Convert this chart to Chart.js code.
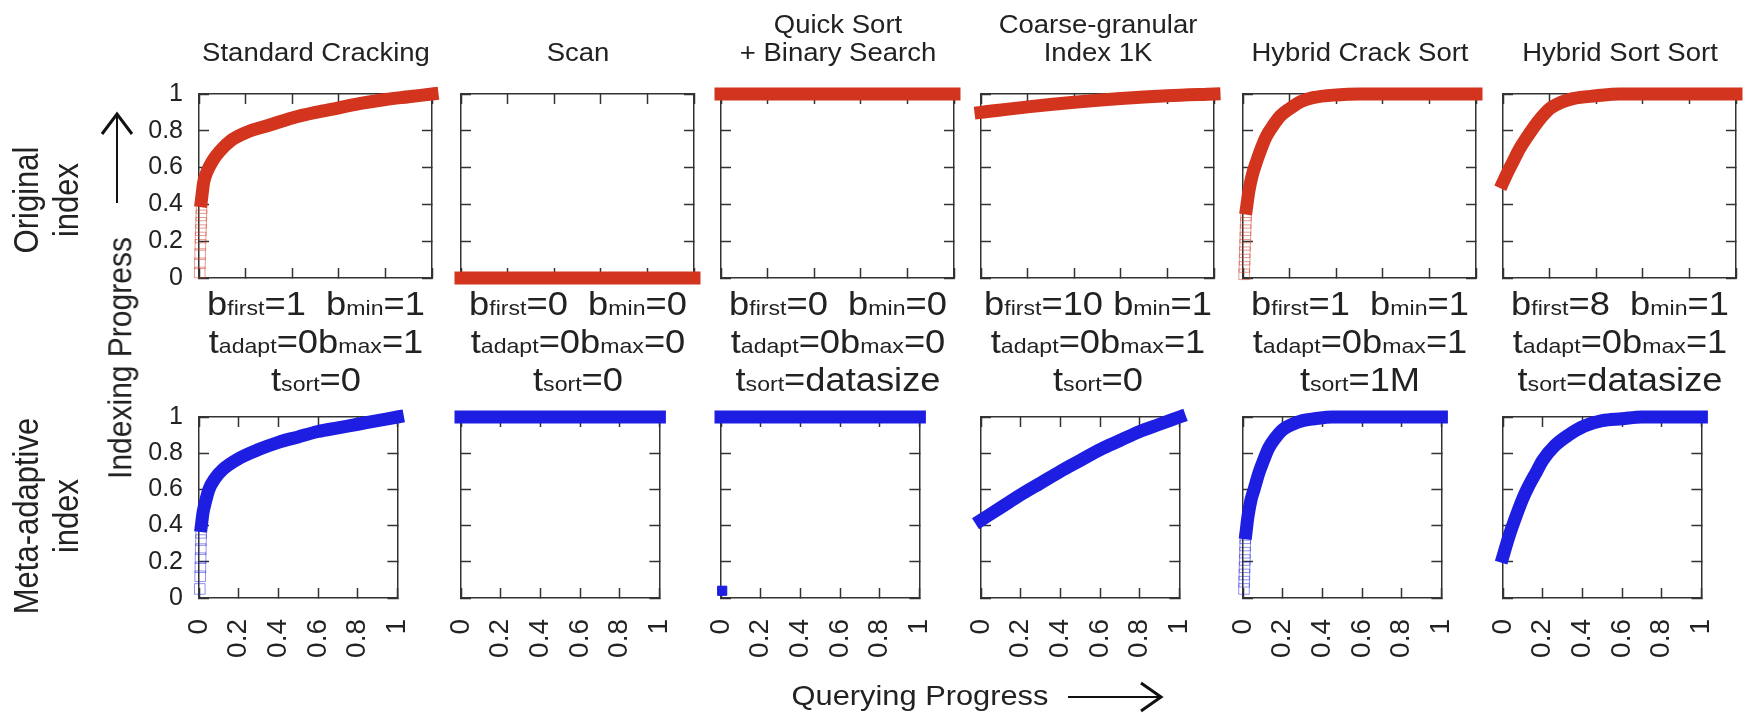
<!DOCTYPE html>
<html><head><meta charset="utf-8">
<script src="https://cdn.jsdelivr.net/npm/chart.js@4.4.1/dist/chart.umd.min.js"></script>
<style>
html,body{margin:0;padding:0;background:#fff;}
#wrap{position:relative;width:1748px;height:713px;overflow:hidden;font-family:"Liberation Sans",Arial,Helvetica,sans-serif;color:#222;background:#fff;}
canvas{position:absolute;}
.t{position:absolute;white-space:pre;text-align:center;}
.sm{font-size:21px;}
svg{position:absolute;left:0;top:0;}
</style></head><body><div id="wrap"></div>
<script>
// ---------- categories / labels ----------
const panelTitles = ['Standard Cracking', 'Scan', 'Quick Sort\n+ Binary Search', 'Coarse-granular\nIndex 1K', 'Hybrid Crack Sort', 'Hybrid Sort Sort'];
const rowLabels = ['Original\nindex', 'Meta-adaptive\nindex'];
const xTickValues = [0, 0.2, 0.4, 0.6, 0.8, 1];
const xTickLabels = ['0', '0.2', '0.4', '0.6', '0.8', '1'];
const yTickValues = [0, 0.2, 0.4, 0.6, 0.8, 1];
const yTickLabels = ['0', '0.2', '0.4', '0.6', '0.8', '1'];
const bFirst = ['1', '0', '0', '10', '1', '8'];
const bMin = ['1', '0', '0', '1', '1', '1'];
const tAdapt = ['0', '0', '0', '0', '0', '0'];
const bMax = ['1', '0', '0', '1', '1', '1'];
const tSort = ['0', '0', 'datasize', '0', '1M', 'datasize'];

// ---------- series: [queryingProgress, indexingProgress] ----------
// Original index (row 1)
const scOrig = [[0.01,0.42],[0.02,0.52],[0.035,0.58],[0.06,0.64],[0.09,0.69],[0.14,0.75],[0.2,0.79],[0.3,0.83],[0.4,0.87],[0.5,0.9],[0.6,0.925],[0.7,0.95],[0.8,0.97],[0.9,0.985],[1.0,1.0]];
const scOrigSparse = [[0.003,0.03],[0.004,0.08],[0.005,0.13],[0.006,0.18],[0.007,0.22],[0.008,0.26],[0.009,0.3],[0.01,0.34],[0.011,0.38]];
const scanOrig = [[0,0],[0.5,0],[1,0]];
const qsOrig = [[0,1],[0.5,1],[1,1]];
const cgOrig = [[0,0.9],[0.2,0.93],[0.4,0.955],[0.6,0.975],[0.8,0.99],[1,1.0]];
const hcsOrig = [[0.015,0.38],[0.025,0.47],[0.04,0.56],[0.06,0.64],[0.08,0.71],[0.1,0.77],[0.13,0.83],[0.16,0.88],[0.2,0.92],[0.25,0.96],[0.3,0.98],[0.4,0.995],[0.5,1.0],[1,1.0]];
const hcsOrigSparse = [[0.005,0.02],[0.006,0.06],[0.007,0.1],[0.008,0.14],[0.009,0.18],[0.01,0.22],[0.011,0.26],[0.012,0.3],[0.013,0.34]];
const hssOrig = [[0,0.52],[0.02,0.575],[0.04,0.625],[0.07,0.7],[0.1,0.76],[0.15,0.85],[0.2,0.92],[0.25,0.955],[0.3,0.975],[0.4,0.99],[0.5,1.0],[1,1.0]];
// Meta-adaptive index (row 2)
const scMeta = [[0.012,0.4],[0.02,0.47],[0.03,0.52],[0.05,0.6],[0.08,0.66],[0.12,0.71],[0.2,0.77],[0.3,0.82],[0.4,0.86],[0.5,0.89],[0.6,0.92],[0.7,0.94],[0.8,0.96],[0.9,0.98],[1.0,1.0]];
const scMetaSparse = [[0.004,0.05],[0.006,0.12],[0.007,0.17],[0.008,0.22],[0.009,0.27],[0.01,0.32],[0.011,0.36]];
const scanMeta = [[0,1],[0.5,1],[1,1]];
const qsMeta = [[0,1],[0.5,1],[1,1]];
const qsMetaDot = [[0.006,0.04]];
const cgMeta = [[0,0.43],[0.1,0.5],[0.2,0.57],[0.3,0.635],[0.4,0.7],[0.5,0.76],[0.6,0.82],[0.7,0.87],[0.8,0.92],[0.9,0.96],[1,1.0]];
const hcsMeta = [[0.015,0.36],[0.025,0.45],[0.04,0.54],[0.056,0.6],[0.08,0.69],[0.1,0.75],[0.13,0.83],[0.16,0.88],[0.2,0.93],[0.25,0.96],[0.3,0.98],[0.36,0.99],[0.45,1.0],[1,1.0]];
const hcsMetaSparse = [[0.005,0.05],[0.006,0.09],[0.007,0.13],[0.008,0.17],[0.009,0.21],[0.01,0.25],[0.011,0.29],[0.012,0.33]];
const hssMeta = [[0,0.23],[0.03,0.34],[0.065,0.45],[0.1,0.55],[0.13,0.62],[0.17,0.7],[0.2,0.76],[0.26,0.84],[0.33,0.9],[0.41,0.95],[0.5,0.98],[0.6,0.99],[0.7,1.0],[1,1.0]];

const denseRows = [[scOrig, scanOrig, qsOrig, cgOrig, hcsOrig, hssOrig], [scMeta, scanMeta, qsMeta, cgMeta, hcsMeta, hssMeta]];
const sparseRows = [[scOrigSparse, null, null, null, hcsOrigSparse, null], [scMetaSparse, null, null, null, hcsMetaSparse, null]];
const dotRows = [[null, null, null, null, null, null], [null, null, qsMetaDot, null, null, null]];

// ---------- layout / style ----------
const FONT = '"Liberation Sans", Arial, Helvetica, sans-serif';
const colLeft = [199, 461, 721, 981, 1243, 1503];
const boxW = 233;
const rowTop = [94, 417];
const rowH = [184, 181];
const rowColor = ['rgb(210,52,30)', 'rgb(30,30,226)'];
const rowFaint = ['rgba(210,70,50,0.55)', 'rgba(40,40,220,0.5)'];
const L = 80, R = 30, T = 50, B = 100;
const SX = 1.1;
const wrap = document.getElementById('wrap');

function addText(html, cx, cy, size, lh, extra) {
  const d = document.createElement('div');
  d.className = 't';
  d.innerHTML = html;
  const lines = html.split('\n').length;
  const h = lines * lh;
  d.style.cssText = `left:${cx - 250}px;top:${cy - h / 2}px;width:500px;height:${h}px;font-size:${size}px;line-height:${lh}px;transform:${extra || 'scaleX(' + SX + ')'};`;
  wrap.appendChild(d);
  return d;
}

const toXY = pairs => pairs.map(p => ({x: p[0], y: p[1]}));

function buildDatasets(r, c) {
  const ds = [];
  const sp = sparseRows[r][c];
  if (sp) ds.push({data: toXY(sp), showLine: false, pointStyle: 'rect', pointRadius: 7.5, pointBorderWidth: 1,
    borderColor: rowFaint[r], backgroundColor: 'rgba(0,0,0,0)', clip: false});
  ds.push({data: toXY(denseRows[r][c]), showLine: true, borderColor: rowColor[r], borderWidth: 13, pointRadius: 0,
    cubicInterpolationMode: 'monotone', borderCapStyle: 'square', borderJoinStyle: 'round', clip: false});
  const dot = dotRows[r][c];
  if (dot) ds.push({data: toXY(dot), showLine: false, pointStyle: 'rect', pointRadius: 6.5,
    backgroundColor: rowColor[r], borderColor: rowColor[r], clip: false});
  return ds;
}

function axis(pos, showLabels, vals, labels, fit) {
  const horiz = pos === 'bottom' || pos === 'top';
  return {
    type: 'linear', position: pos, min: 0, max: 1,
    afterBuildTicks: s => { s.ticks = vals.map(v => ({value: v})); },
    ticks: {
      display: showLabels, autoSkip: false, color: '#222',
      padding: horiz ? 31 : 26,
      font: {family: FONT, size: horiz ? 28 : 25},
      minRotation: horiz ? 90 : 0, maxRotation: horiz ? 90 : 0,
      callback: (v, i) => labels[i]
    },
    grid: {drawOnChartArea: false, drawTicks: true, tickLength: -10, tickColor: '#333', tickWidth: 1.5},
    border: {display: true, color: '#333', width: 1.5},
    afterFit: s => { if (horiz) s.height = fit; else s.width = fit; }
  };
}

for (let r = 0; r < 2; r++) {
  for (let c = 0; c < 6; c++) {
    const cv = document.createElement('canvas');
    const w = boxW + L + R, h = rowH[r] + T + B;
    cv.width = w; cv.height = h;
    cv.style.left = (colLeft[c] - L) + 'px';
    cv.style.top = (rowTop[r] - T) + 'px';
    cv.style.width = w + 'px'; cv.style.height = h + 'px';
    wrap.appendChild(cv);
    new Chart(cv, {
      type: 'scatter',
      data: {datasets: buildDatasets(r, c)},
      options: {
        responsive: false, animation: false, devicePixelRatio: 1, events: [],
        layout: {padding: 0},
        plugins: {legend: {display: false}, tooltip: {enabled: false}},
        scales: {
          x: axis('bottom', r === 1, xTickValues, xTickLabels, B),
          x2: axis('top', false, xTickValues, xTickLabels, T),
          y: axis('left', c === 0, yTickValues, yTickLabels, L),
          y2: axis('right', false, yTickValues, yTickLabels, R)
        }
      }
    });
  }
}

// titles
for (let c = 0; c < 6; c++) {
  const cx = colLeft[c] + boxW / 2;
  const lines = panelTitles[c].split('\n').length;
  const lh = 28;
  const lastCenter = 52;
  const cy = lastCenter - (lines - 1) * lh / 2;
  addText(panelTitles[c], cx, cy, 25, lh);
}
// parameter labels
const paramY = [304, 342, 380];
for (let c = 0; c < 6; c++) {
  const cx = colLeft[c] + boxW / 2;
  const sep = bFirst[c].length > 1 ? ' ' : '  ';
  addText(`b<span class="sm">first</span>=${bFirst[c]}${sep}b<span class="sm">min</span>=${bMin[c]}`, cx, paramY[0], 33, 38);
  addText(`t<span class="sm">adapt</span>=${tAdapt[c]}b<span class="sm">max</span>=${bMax[c]}`, cx, paramY[1], 33, 38);
  addText(`t<span class="sm">sort</span>=${tSort[c]}`, cx, paramY[2], 33, 38);
}
// row labels
addText(rowLabels[0], 47, 200, 31, 36, 'rotate(-90deg) scaleY(1.12)');
addText(rowLabels[1], 47, 516, 31, 36, 'rotate(-90deg) scaleY(1.12)');
// axis titles
addText('Indexing Progress', 120, 358, 30, 34, 'rotate(-90deg) scaleY(1.1)');
addText('Querying Progress', 920, 696, 28, 32);

// arrows
const svgNS = 'http://www.w3.org/2000/svg';
const svg = document.createElementNS(svgNS, 'svg');
svg.setAttribute('width', '1748'); svg.setAttribute('height', '713');
svg.innerHTML = `
<line x1="117" y1="203" x2="117" y2="116" stroke="#111" stroke-width="2"/>
<polyline points="102,134 117,114 132,134" fill="none" stroke="#111" stroke-width="3"/>
<line x1="1068" y1="697" x2="1159" y2="697" stroke="#111" stroke-width="2"/>
<polyline points="1141,683 1161,697 1141,711" fill="none" stroke="#111" stroke-width="3"/>`;
wrap.appendChild(svg);
</script></body></html>
